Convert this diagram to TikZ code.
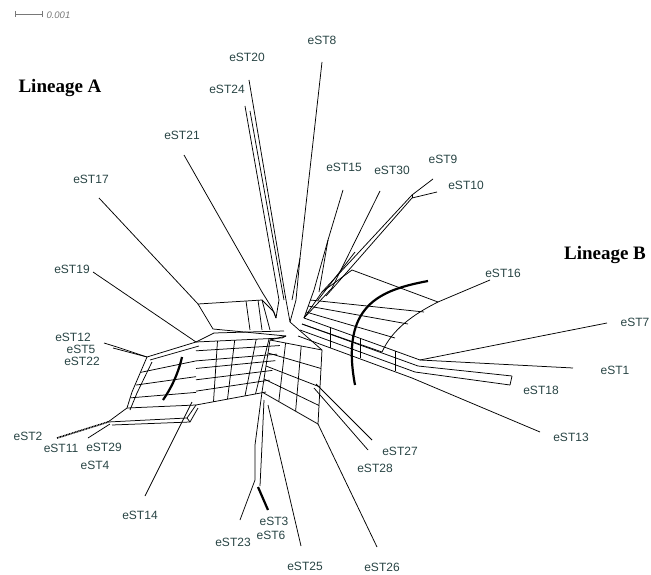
\documentclass[tikz,border=0pt]{standalone}
\usepackage{fontspec}
\setmainfont{Liberation Serif}
\setsansfont{Liberation Sans}
\usetikzlibrary{calc}
\definecolor{labelgray}{RGB}{40,68,68}
\definecolor{scalegray}{RGB}{120,120,120}
\tikzset{
	net/.style={line width=0.75pt},
	heavy/.style={line width=2.2pt},
	leaf/.style={font=\sffamily\fontsize{12}{12}\selectfont, text=labelgray, inner sep=0pt},
	lineage/.style={font=\rmfamily\bfseries\fontsize{19}{19}\selectfont, inner sep=0pt},
}

\begin{document}
\begin{tikzpicture}[x=1pt,y=-1pt]
      \useasboundingbox (0,0) rectangle (651,575);

      % scale bar
      \coordinate (sb0) at (15,14);
      \coordinate (sb1) at (42,14);
      \draw[scalegray, line width=0.7pt] (sb0) -- (sb1);
      \draw[scalegray, line width=0.7pt] ($(sb0)+(0,-3)$) -- ($(sb0)+(0,3)$);
      \draw[scalegray, line width=0.7pt] ($(sb1)+(0,-3)$) -- ($(sb1)+(0,3)$);
      \node[anchor=west, text=scalegray, font=\sffamily\itshape\fontsize{9.5}{9.5}\selectfont] (sbl) at (43,15) {0.001};

      % lineages
      \node[lineage] (linA) at (60,88) {Lineage A};
      \node[lineage] (linB) at (605,255) {Lineage B};

      % leaf labels
      \node[leaf] (l8)  at (322,40)  {eST8};
      \node[leaf] (l20) at (247,57)  {eST20};
      \node[leaf] (l24) at (227,89)  {eST24};
      \node[leaf] (l21) at (182,135) {eST21};
      \node[leaf] (l17) at (91,179)  {eST17};
      \node[leaf] (l19) at (72,269)  {eST19};
      \node[leaf] (l12) at (73,337)  {eST12};
      \node[leaf] (l5)  at (81,349)  {eST5};
      \node[leaf] (l22) at (82,361)  {eST22};
      \node[leaf] (l2)  at (28,436)  {eST2};
      \node[leaf] (l11) at (61,448)  {eST11};
      \node[leaf] (l29) at (104,447) {eST29};
      \node[leaf] (l4)  at (95,465)  {eST4};
      \node[leaf] (l14) at (140,515) {eST14};
      \node[leaf] (l23) at (233,542) {eST23};
      \node[leaf] (l3)  at (274,521) {eST3};
      \node[leaf] (l6)  at (271,535) {eST6};
      \node[leaf] (l25) at (305,566) {eST25};
      \node[leaf] (l26) at (382,567) {eST26};
      \node[leaf] (l28) at (375,468) {eST28};
      \node[leaf] (l27) at (400,451) {eST27};
      \node[leaf] (l13) at (571,437) {eST13};
      \node[leaf] (l18) at (541,390) {eST18};
      \node[leaf] (l1)  at (615,370) {eST1};
      \node[leaf] (l7)  at (635,322) {eST7};
      \node[leaf] (l16) at (503,273) {eST16};
      \node[leaf] (l10) at (466,185) {eST10};
      \node[leaf] (l9)  at (443,159) {eST9};
      \node[leaf] (l30) at (392,170) {eST30};
      \node[leaf] (l15) at (344,167) {eST15};

      % leaf ends
      \coordinate (e8)  at (322,62);
      \coordinate (e20) at (249,80);
      \coordinate (e24) at (245,106);
      \coordinate (e21) at (184,155);
      \coordinate (e17) at (99,198);
      \coordinate (e19) at (93,272);
      \coordinate (e12) at (104,343);
      \coordinate (e22) at (113,348);
      \coordinate (e2)  at (57,438);
      \coordinate (e29) at (88,438);
      \coordinate (e14) at (145,496);
      \coordinate (e23) at (240,520);
      \coordinate (e3)  at (268,510);
      \coordinate (e25) at (301,546);
      \coordinate (e26) at (377,547);
      \coordinate (e28) at (368,450);
      \coordinate (e27) at (372,440);
      \coordinate (e13) at (540,432);
      \coordinate (e18) at (510,385);
      \coordinate (e18b) at (512,376);
      \coordinate (e1)  at (573,368);
      \coordinate (e7)  at (607,323);
      \coordinate (e16) at (490,280);
      \coordinate (e10) at (437,192);
      \coordinate (e9)  at (433,179);
      \coordinate (e30) at (380,191);
      \coordinate (e15) at (343,190);

      % hub points
      \coordinate (h)   at (290,322);
      \coordinate (hA)  at (276,318);
      \coordinate (hB)  at (304,318);
      \coordinate (hC)  at (286,336);

      % top spokes
      \draw[net] (e8) -- (300,258) -- (296,300) -- (h);
      \draw[net] (300,258) -- (292,300);
      \draw[net] (e20) -- (286,300) -- (h);
      \draw[net] (e24) -- (279,300) -- (hA);
      \draw[net] (250,111) -- (284,300);
      \draw[net] (e21) -- (262,292) -- (272,308) -- (hA);
      \draw[net] (e15) -- (328,240) -- (314,290) -- (hB);
      \draw[net] (328,240) -- (319,292);
      \draw[net] (e30) -- (332,288) -- (hB);
      \draw[net] (e9) -- (412,195) -- (322,292) -- (hB);
      \draw[net] (e10) -- (412,198) -- (326,296);
      \draw[net] (412,195) -- (412,198);
      \draw[net] (355,252) -- (318,300);

      % left-top box
      \draw[net] (e17) -- (198,304) -- (262,300) -- (274,312) -- (hA);
      \draw[net] (198,304) -- (213,329) -- (hC);
      \draw[net] (214,333) -- (284,331);
      \draw[net] (246,301) -- (250,330);
      \draw[net] (258,300) -- (262,330);
      \draw[net] (262,300) -- (270,330);

      % left main block
      \coordinate (tl) at (196,342);
      \coordinate (tr) at (282,338);
      \coordinate (br) at (266,392);
      \coordinate (bl) at (196,405);
      \draw[net] (e19) -- (tl);
      \draw[net] (214,333) -- (tl);
      \foreach \t in {0,0.14,0.3,0.42,0.6,0.78,1}
        \draw[net] ($(tl)!\t!(bl)$) -- ($(tr)!\t!(br)$);
      \foreach \s in {0.25,0.45,0.7,0.85}
        \draw[net] ($(tl)!\s!(tr)$) -- ($(bl)!\s!(br)$);
      \draw[net] (tr) -- (hC);

      % left lower band
      \coordinate (q1) at (147,357);
      \coordinate (q2) at (127,408);
      \coordinate (q3) at (108,422);
      \draw[net] (e12) -- (117,347) -- (q1);
      \draw[net] (e22) -- (q1);
      \draw[net] (q1) -- (tl);
      \draw[net] (150,360) -- (199,346);
      \draw[net] (q1) -- (132,392) -- (q2) -- (q3);
      \draw[net] (152,362) -- (137,393) -- (130,410);
      \draw[heavy] (182,357) .. controls (178,375) and (170,390) .. (163,400);
      \foreach \t in {0.3,0.55,0.8}
        \draw[net] ($(q1)!\t!(q2)$) -- ($(tl)!\t!(bl)$);
      \draw[net] (q2) -- (bl);
      \draw[net] (q3) -- (187,418) -- (bl);
      \draw[net] (112,425) -- (190,422) -- (198,408);
      \draw[net] (187,418) -- (190,422);
      \draw[line width=1.6pt, dash pattern=on 1pt off 0.6pt] (e2) -- (q3);
      \draw[net] (e29) -- (110,424);
      \draw[net] (e14) -- (192,402);

      % lower centre grid
      \coordinate (ga) at (270,340);
      \coordinate (gb) at (322,350);
      \coordinate (gc) at (318,424);
      \coordinate (gd) at (262,392);
      \draw[net] (hC) -- (ga);
      \draw[net] (h) -- (gb);
      \foreach \t in {0,0.25,0.5,0.75,1}
        \draw[net] ($(ga)!\t!(gd)$) -- ($(gb)!\t!(gc)$);
      \foreach \t in {0,0.3,0.6,1}
        \draw[net] ($(ga)!\t!(gb)$) -- ($(gd)!\t!(gc)$);

      % lower spokes
      \draw[net] (gd) -- (255,445) -- (255,480) -- (e23);
      \draw[net] (264,400) -- (262,445) -- (260,486);
      \draw[heavy] (258,487) -- (e3);
      \draw[net] (268,405) -- (e25);
      \draw[net] (gc) -- (e26);
      \draw[net] (314,388) -- (e28);
      \draw[net] (316,384) -- (e27);

      % right band
      \draw[net] (hB) -- (420,360);
      \draw[net] (302,324) -- (418,366);
      \draw[net] (300,330) -- (415,372);
      \draw[net] (298,336) -- (412,378);
      \foreach \x in {330,360,395}
        \draw[net] (\x,{318+(\x-304)*0.36}) -- (\x,{336+(\x-298)*0.36});
      \draw[net] (420,360) -- (e1);
      \draw[net] (420,360) -- (e7);
      \draw[net] (418,366) -- (e18b);
      \draw[net] (415,372) -- (e18);
      \draw[net] (e18) -- (e18b);
      \draw[net] (412,378) -- (e13);

      % right fan box
      \coordinate (ar0) at (438,302);
      \coordinate (ar1) at (382,352);
      \draw[net] (e16) -- (ar0);
      \draw[net] (ar0) .. controls (412,315) and (392,330) .. (ar1);
      \draw[net] (352,270) -- (ar0);
      \draw[net] (322,292) -- (352,270);
      \draw[net] (310,300) -- (424,312);
      \draw[net] (308,306) -- (408,324);
      \draw[net] (306,312) -- (395,338);
      \draw[net] (ar1) -- (302,324);
      \draw[heavy] (428,281) .. controls (380,290) and (340,305) .. (355,385);
\end{tikzpicture}
\end{document}
